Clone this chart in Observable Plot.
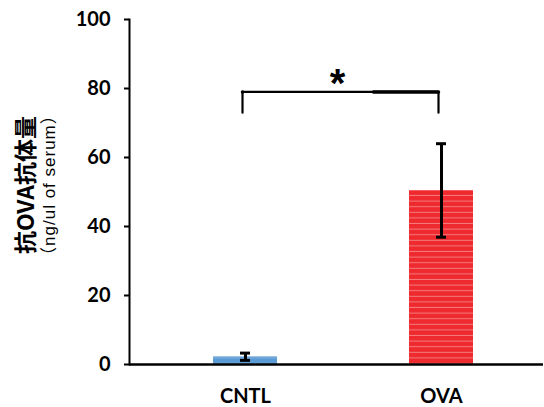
<!DOCTYPE html>
<html>
<head>
<meta charset="utf-8">
<script src="https://cdn.jsdelivr.net/npm/d3@7"></script>
<script src="https://cdn.jsdelivr.net/npm/@observablehq/plot@0.6"></script>
<style>
  html, body { margin: 0; padding: 0; background: #fff; }
  #chart svg { display: block; }
</style>
</head>
<body>
<div id="chart"></div>
<script>
const categories = ["CNTL", "OVA"];
const means = [2.2, 50.4];
const errLow = [1.2, 36.9];
const errHigh = [3.3, 64.0];
const yTicks = [0, 20, 40, 60, 80, 100];
const yLabelMain = "抗OVA抗体量";
const yLabelSub = "（ng/ul of serum）";
const bracket = {left: "CNTL", right: "OVA", top: 79, bottom: 73, label: "*"};

const data = categories.map((c, i) => ({cat: c, mean: means[i], lo: errLow[i], hi: errHigh[i]}));
const bracketPts = [
  {x: bracket.left, y: bracket.bottom},
  {x: bracket.left, y: bracket.top},
  {x: bracket.right, y: bracket.top},
  {x: bracket.right, y: bracket.bottom}
];
const bracketTop = [
  {x: bracket.left, y: bracket.top},
  {x: bracket.right, y: bracket.top}
];

const fills = {CNTL: "url(#stripeBlue)", OVA: "url(#stripeRed)"};

const chart = Plot.plot({
  width: 544,
  height: 407,
  marginLeft: 129,
  marginRight: 1,
  marginTop: 19,
  marginBottom: 43,
  style: {fontFamily: "Lato, 'Open Sans', sans-serif", background: "#fff"},
  x: {domain: categories, range: [212, 473], paddingInner: 0.675, paddingOuter: 0, align: 0.5},
  y: {domain: [0, 100]},
  marks: [
    Plot.barY(data, {x: "cat", y: "mean", fill: d => fills[d.cat]}),
    Plot.ruleX(data, {x: "cat", y1: "lo", y2: "hi", stroke: "#000", strokeWidth: 3}),
    Plot.tickY(data, {x: "cat", y: "hi", stroke: "#000", strokeWidth: 3, insetLeft: 27, insetRight: 27}),
    Plot.tickY(data, {x: "cat", y: "lo", stroke: "#000", strokeWidth: 3, insetLeft: 27, insetRight: 27}),
    Plot.line(bracketPts, {x: "x", y: "y", stroke: "#000", strokeWidth: 2.2, dx: -3}),
    Plot.line(bracketTop, {x: "x", y: "y", stroke: "#000", strokeWidth: 3.5, dx: -3, strokeDasharray: "0,131,66,1000"}),
    Plot.text([bracket.label], {x: () => bracket.left, y: () => bracket.top, text: d => d, dx: 92, dy: -8,
      fontSize: 40, fontWeight: "bold", fontFamily: "'Liberation Sans', sans-serif", fill: "#000", lineAnchor: "middle"}),
    Plot.frame({anchor: "left", stroke: "#000", strokeWidth: 2}),
    Plot.ruleY([0], {stroke: "#000", strokeWidth: 2.5}),
    Plot.axisY({ticks: yTicks, tickSize: 5, tickPadding: 14, label: null, fontSize: 20, fontWeight: "bold",
      stroke: "#000", strokeWidth: 2, fill: "#000"}),
    Plot.axisX({tickSize: 0, tickPadding: 24, label: null, fontSize: 20, fontWeight: "bold", fill: "#000"}),
    Plot.text([yLabelMain], {frameAnchor: "left", y: () => 52, text: d => d, rotate: -90, dx: -103,
      fontSize: 23, fontWeight: "bold", fontFamily: "'Noto Sans CJK JP', sans-serif", fill: "#000", textAnchor: "middle", lineAnchor: "middle"}),
    Plot.text([yLabelSub], {frameAnchor: "left", y: () => 52, text: d => d, rotate: -90, dx: -80,
      fontSize: 17, fontFamily: "'Liberation Sans', 'Noto Sans CJK JP', sans-serif", fill: "#000", textAnchor: "middle", lineAnchor: "middle"})
  ]
});

// stripe patterns for bar fills
const svg = d3.select(chart);
const defs = svg.insert("defs", ":first-child");
function stripe(id, base, line) {
  const p = defs.append("pattern").attr("id", id).attr("patternUnits", "userSpaceOnUse")
    .attr("width", 8).attr("height", 5.6);
  p.append("rect").attr("width", 8).attr("height", 5.6).attr("fill", base);
  p.append("rect").attr("y", 4.6).attr("width", 8).attr("height", 1).attr("fill", line);
}
stripe("stripeRed", "#ee2a2f", "#f47a7c");
stripe("stripeBlue", "#5b9bd5", "#7fb1e0");

// widen spacing of the unit label
svg.selectAll("text").filter(function() { return this.textContent === yLabelSub; })
  .attr("letter-spacing", "1px");

document.getElementById("chart").appendChild(chart);
</script>
</body>
</html>
